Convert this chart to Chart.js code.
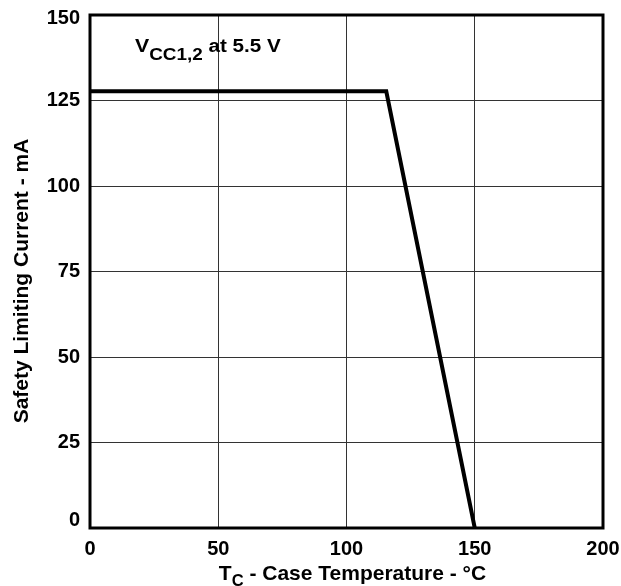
<!DOCTYPE html>
<html><head><meta charset="utf-8">
<script src="https://cdn.jsdelivr.net/npm/chart.js@4"></script>
<style>html,body{margin:0;padding:0;background:#fff}</style>
</head><body>
<canvas id="c" width="621" height="586"></canvas>
<script>
const temperatures = [0, 115.5, 150];
const currents = [127.7, 127.7, 0];
const xTicks = [0, 50, 100, 150, 200];
const yTicks = [0, 25, 50, 75, 100, 125, 150];
const annotationMain = "V";
const annotationSub = "CC1,2";
const annotationRest = " at 5.5 V";
const yTitle = "Safety Limiting Current - mA";
const xTitleMain = "T";
const xTitleSub = "C";
const xTitleRest = " - Case Temperature - °C";

const FONT = '"Liberation Sans", Arial, sans-serif';

const decor = {
  id: 'decor',
  afterDraw(chart) {
    const ctx = chart.ctx, a = chart.chartArea;
    ctx.save();
    ctx.strokeStyle = '#000';
    ctx.lineWidth = 3;
    ctx.strokeRect(a.left, a.top, a.right - a.left, a.bottom - a.top);
    ctx.fillStyle = '#000';
    ctx.textBaseline = 'alphabetic';
    ctx.textAlign = 'left';
    // annotation (slightly widened like the reference lettering)
    ctx.save();
    ctx.translate(135, 52);
    ctx.scale(1.18, 1);
    let x = 0;
    ctx.font = 'bold 18px ' + FONT;
    ctx.fillText(annotationMain, x, 0);
    x += ctx.measureText(annotationMain).width;
    ctx.font = 'bold 16px ' + FONT;
    ctx.fillText(annotationSub, x, 8);
    x += ctx.measureText(annotationSub).width;
    ctx.font = 'bold 17.5px ' + FONT;
    ctx.fillText(annotationRest, x, 0);
    ctx.restore();
    // x title
    ctx.font = 'bold 21px ' + FONT;
    const w1 = ctx.measureText(xTitleMain).width;
    const w3 = ctx.measureText(xTitleRest).width;
    ctx.font = 'bold 16.5px ' + FONT;
    const w2 = ctx.measureText(xTitleSub).width;
    let tx = 352.5 - (w1 + w2 + w3) / 2, ty = 580;
    ctx.font = 'bold 21px ' + FONT;
    ctx.fillText(xTitleMain, tx, ty);
    tx += w1;
    ctx.font = 'bold 16.5px ' + FONT;
    ctx.fillText(xTitleSub, tx, ty + 6);
    tx += w2;
    ctx.font = 'bold 21px ' + FONT;
    ctx.fillText(xTitleRest, tx, ty);
    // y title
    ctx.translate(28, 281);
    ctx.rotate(-Math.PI / 2);
    ctx.textAlign = 'center';
    ctx.font = 'bold 21px ' + FONT;
    ctx.fillText(yTitle, 0, 0);
    ctx.restore();
  }
};

const yMin = yTicks[0], yMax = yTicks[yTicks.length - 1];

new Chart(document.getElementById('c'), {
  type: 'line',
  data: {
    datasets: [{
      data: temperatures.map((t, i) => ({x: t, y: currents[i]})),
      borderColor: '#000',
      borderWidth: 4,
      pointRadius: 0,
      tension: 0,
      fill: false
    }]
  },
  options: {
    responsive: false,
    animation: false,
    layout: {padding: {top: 15, right: 18, left: 0, bottom: 0}},
    plugins: {legend: {display: false}, tooltip: {enabled: false}},
    scales: {
      x: {
        type: 'linear', min: 0, max: 200,
        afterBuildTicks: s => { s.ticks = xTicks.map(v => ({value: v})); },
        afterFit: s => { s.height = 58; s.paddingLeft = 0; s.paddingRight = 0; },
        grid: {color: '#333', lineWidth: 1, drawTicks: false},
        border: {display: false},
        ticks: {color: '#000', padding: 9, font: {family: FONT, weight: 'bold', size: 20}}
      },
      y: {
        type: 'linear', min: yMin, max: yMax,
        afterBuildTicks: s => { s.ticks = yTicks.map(v => ({value: v})); },
        afterFit: s => { s.width = 90; s.paddingTop = 0; s.paddingBottom = 0; },
        grid: {color: '#333', lineWidth: 1, drawTicks: false},
        border: {display: false},
        ticks: {
          color: '#000', padding: 10,
          callback: v => v === yMin ? [String(v), ''] : v === yMax ? ['', String(v)] : String(v),
          font: c => ({
            family: FONT, weight: 'bold', size: 20,
            lineHeight: c.tick && c.tick.value === yMin ? '16px' : (c.tick && c.tick.value === yMax ? '7px' : 1.2)
          })
        }
      }
    }
  },
  plugins: [decor]
});
</script>
</body></html>
